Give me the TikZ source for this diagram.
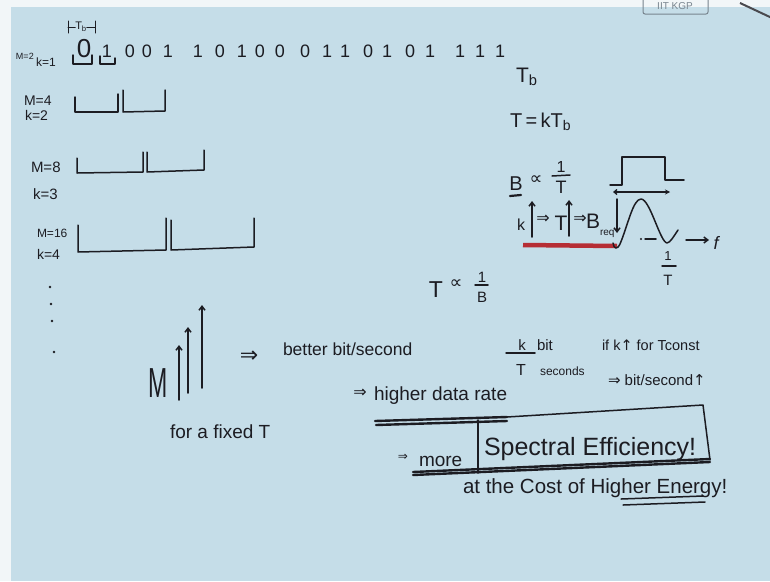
\documentclass[tikz,border=0pt]{standalone}
\usepackage{fontspec}
\setmainfont{Liberation Sans}
\newfontfamily\symf{DejaVu Sans}
\usetikzlibrary{arrows.meta}
\definecolor{board}{RGB}{197,221,232}
\definecolor{ink}{RGB}{28,28,34}
\definecolor{redink}{RGB}{182,45,52}
\definecolor{edgec}{RGB}{242,246,248}
\definecolor{logoc}{RGB}{120,132,142}
\newcommand\hfs[1]{\fontsize{#1}{#1}\selectfont}
\newcommand\hwImp{{\symf ⇒}}
\newcommand\hwUp{{\symf ↑}}
\newcommand\hwProp{{\symf ∝}}
\begin{document}
\begin{tikzpicture}[x=1pt,y=-1pt,
  lbl/.style={inner sep=0pt,outer sep=0pt,text=ink,font=\hfs{#1}},
  lbl/.default=16,
  pen/.style={draw=ink,line width=1.5pt,line cap=round,line join=round},
  heavy/.style={draw=ink,line width=2.4pt,line cap=round},
  uparrow/.style={pen,-{Straight Barb[length=4pt,width=6pt]}}]
\useasboundingbox (0,0) rectangle (770,581);
\fill[board] (0,0) rectangle (770,581);
\fill[edgec] (0,0) rectangle (770,7);
\fill[edgec] (0,0) rectangle (11,581);
% logo and corner
\draw[logoc,line width=1pt,rounded corners=2pt] (643,-3) rectangle (708,14);
\node[inner sep=0pt,text=logoc,font=\hfs{10}] (logo) at (675,6) {IIT KGP};
\draw[ink!80,line width=2pt] (740,3) -- (772,18);

% bit sequence
\node[lbl=26,anchor=base] (bit1) at (84,57) {0};
\foreach \x/\b [count=\i from 2] in {107/1,130/0,147/0,168/1,198/1,220/0,242/1,260/0,280/0,305/0,327/1,345/1,368/0,387/1,410/0,430/1,460/1,480/1,500/1}
  \node[lbl=18,anchor=base] (bit\i) at (\x,57) {\b};
\node[lbl=11] (tb0) at (81,27) {T\textsubscript{b}};
\draw[pen,line width=1pt] (68,21) -- (68,33) (68,27) -- (tb0.west) (tb0.east) -- (95,27) (95,21) -- (95,33);

% M=2
\node[lbl=9,anchor=base west] (m2) at (16,59) {M=2};
\node[lbl=12,anchor=base west] (k1) at (36,66) {k=1};
\draw[pen] (73,55) -- (73,64) -- (92,64) -- (92,55);
\draw[pen] (100,56) -- (100,64) -- (115,64) -- (115,58);
% M=4
\node[lbl=14,anchor=base west] (m4) at (24,105) {M=4};
\node[lbl=14,anchor=base west] (k2) at (25,120) {k=2};
\draw[pen] (75,97) -- (75,112) -- (118,112) -- (118,94);
\draw[pen] (123,90) -- (123,112) -- (165,111) -- (165,90);
% M=8
\node[lbl=15,anchor=base west] (m8) at (31,172) {M=8};
\node[lbl=15,anchor=base west] (k3) at (33,199) {k=3};
\draw[pen] (77,158) -- (77,173) -- (143,172) -- (143,152);
\draw[pen] (147,152) -- (147,172) -- (204,170) -- (204,150);
% M=16
\node[lbl=12,anchor=base west] (m16) at (37,237) {M=16};
\node[lbl=14,anchor=base west] (k4) at (37,259) {k=4};
\draw[pen] (78,225) -- (78,252) -- (166,250) -- (166,218);
\draw[pen] (171,220) -- (171,250) -- (254,247) -- (254,218);
% dots
\foreach \x/\y in {50/287,51/304,52/321,54/352} \fill[ink] (\x,\y) circle (1.4);

% M increasing
\node[lbl=42,anchor=base west] (bigM) at (148,397) {\scalebox{0.55}[1]{M}};
\coordinate (a1s) at (179,400); \coordinate (a1e) at (179,345);
\coordinate (a2s) at (188,393); \coordinate (a2e) at (188,327);
\coordinate (a3s) at (202,388); \coordinate (a3e) at (202,305);
\draw[uparrow] (a1s) -- (a1e);
\draw[uparrow] (a2s) -- (a2e);
\draw[uparrow] (a3s) -- (a3e);
\node[lbl=22] (imp1) at (249,357) {\hwImp};
\node[lbl=17.5,anchor=base west] (better) at (283,355) {better bit/second};
\node[lbl=19,anchor=base west] (fixed) at (170,438) {for a fixed T};
\node[lbl=16] (imp2) at (360,393) {\hwImp};
\node[lbl=19,anchor=base west] (hdr) at (374,400) {higher data rate};
\draw[heavy] (375,421) -- (507,417);
\draw[heavy] (376,425) -- (507,421);
% box
\draw[pen] (507,417) -- (703,405) -- (710,460);
\draw[pen] (478,420) -- (478,473);
\draw[heavy] (413,472) -- (710,459);
\draw[heavy] (413,475) -- (710,462);
\node[lbl=12] (imp3) at (403,457) {\hwImp};
\node[lbl=19,anchor=base west] (more) at (419,466) {more};
\node[lbl=25,anchor=base west] (spec) at (484,455) {Spectral Efficiency!};
\node[lbl=20.5,anchor=base west] (cost) at (463,493) {at the Cost of Higher Energy!};
\draw[pen] (621,499) -- (703,496);
\draw[pen] (623,505) -- (705,502);

% k/T bit per seconds
\node[lbl=15,anchor=base] (kk) at (522,350) {k};
\draw[pen] (506,353) -- (535,353);
\node[lbl=16,anchor=base] (tt) at (521,375) {T};
\node[lbl=15,anchor=base west] (bitw) at (537,350) {bit};
\node[lbl=12,anchor=base west] (secw) at (540,375) {seconds};
\node[lbl=14.5,anchor=base west] (ifk) at (602,350) {if k\hwUp\ for Tconst};
\node[lbl=15,anchor=base west] (bps) at (608,385) {\hwImp\ bit/second\hwUp};

% top right
\node[lbl=21,anchor=base west] (tb1) at (516,82) {T\textsubscript{b}};
\node[lbl=20,anchor=base west] (tk) at (510,127) {T\,=\,kT\textsubscript{b}};
\node[lbl=20,anchor=base] (bb) at (516,190) {B};
\draw[pen,line width=2.2pt] (510,196) -- (521,195);
\node[lbl=18] (pp1) at (536,180) {\hwProp};
\node[lbl=16] (one1) at (561,167) {1};
\draw[pen] (552,176) -- (570,175);
\node[lbl=18,anchor=base] (tt1) at (561,193) {T};

% pulse and spectrum
\draw[pen] (610,185) -- (622,185) -- (622,157) -- (665,157) -- (665,180) -- (684,180);
\coordinate (bwl) at (613,192); \coordinate (bwr) at (670,192);
\draw[pen,line width=1.3pt,{Straight Barb[length=3pt,width=5pt]}-{Stealth[length=5pt,width=5pt]}] (bwl) -- (bwr);
\draw[redink,line width=4.5pt] (523,245) -- (617,246);
\draw[pen] (613,243) .. controls (614,249) and (617,250) .. (620,244)
  .. controls (628,225) and (633,199) .. (641,199)
  .. controls (650,199) and (660,242) .. (667,243)
  .. controls (670,243) and (674,236) .. (678,230);
\fill[ink] (641,239) circle (1.1);
\draw[pen] (645,239) -- (656,239);
\coordinate (fs) at (686,240); \coordinate (fe) at (709,240);
\draw[pen,-{Straight Barb[length=4pt,width=6pt]}] (fs) -- (fe);
\node[lbl=18,anchor=base] (ff) at (717,249) {\textit{f}};
\node[lbl=13] (one3) at (668,256) {1};
\draw[pen] (662,266) -- (676,266);
\node[lbl=15,anchor=base] (tt3) at (668,285) {T};

% k up => T up => Breq down
\node[lbl=16,anchor=base] (k5) at (521,230) {k};
\coordinate (u1s) at (532,237); \coordinate (u1e) at (532,201);
\draw[uparrow] (u1s) -- (u1e);
\node[lbl=16] (i4) at (543,219) {\hwImp};
\node[lbl=21,anchor=base] (t5) at (561,230) {T};
\coordinate (u2s) at (569,236); \coordinate (u2e) at (569,200);
\draw[uparrow] (u2s) -- (u2e);
\node[lbl=16] (i5) at (580,219) {\hwImp};
\node[lbl=21,anchor=base] (b5) at (593,228) {B};
\node[lbl=10,anchor=base west] (req) at (600,235) {req};
\coordinate (d1s) at (617,199); \coordinate (d1e) at (617,233);
\draw[uparrow] (d1s) -- (d1e);

% T prop 1/B
\node[lbl=23,anchor=base] (t3) at (436,297) {T};
\node[lbl=18] (pp2) at (456,284) {\hwProp};
\node[lbl=15] (one2) at (482,277) {1};
\draw[pen] (475,285) -- (488,285);
\node[lbl=15,anchor=base] (b3) at (482,302) {B};
\end{tikzpicture}
\end{document}
